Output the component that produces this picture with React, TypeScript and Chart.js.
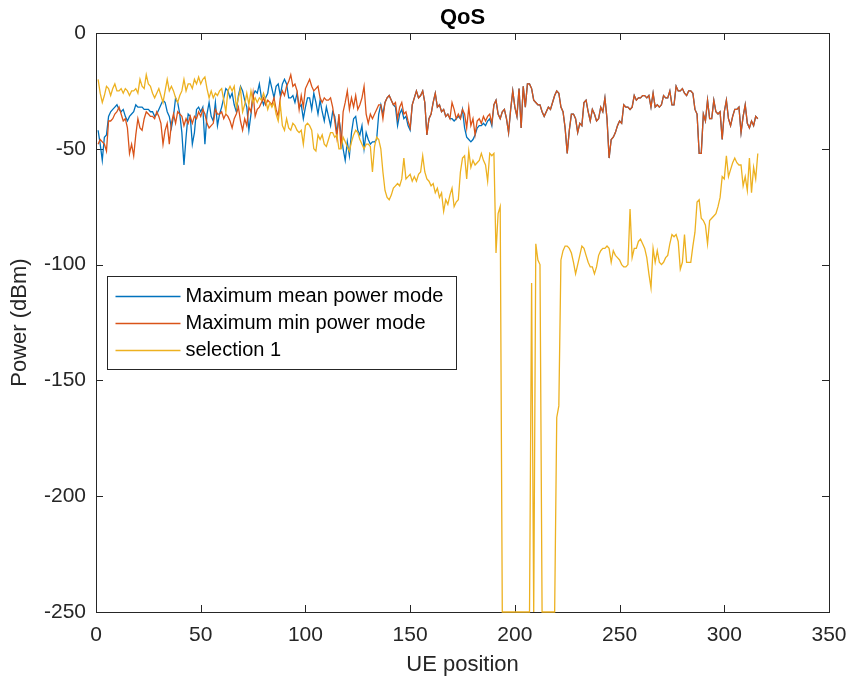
import { useEffect, useRef } from "react";
import { Chart, registerables } from "chart.js";

Chart.register(...registerables);

// Axis ticks
const xTicks = [0, 50, 100, 150, 200, 250, 300, 350];
const yTicks = [-250, -200, -150, -100, -50, 0];

const seriesNames = ["Maximum mean power mode", "Maximum min power mode", "selection 1"];
const seriesColors = ["#0072BD", "#D95319", "#EDB120"];

// Received power (dBm) per UE position 1..316
const meanPowerMode = [
  -42, -48, -55, -45, -44, -36, -34, -33, -32, -31,
  -33, -34, -33, -36, -38, -36, -35, -34, -31, -32,
  -32, -32, -33, -33, -33, -34, -34, -36, -35, -33,
  -31, -29, -30, -34, -36, -41, -36, -28, -30, -35,
  -43, -57, -45, -35, -36, -48, -43, -33, -32, -34,
  -32, -48, -35, -30, -36, -38, -30, -40, -35, -32,
  -28, -24, -25, -28, -26, -31, -34, -27, -23, -25,
  -29, -32, -42, -35, -27, -25, -26, -22, -28, -31,
  -28, -26, -20, -24, -28, -23, -22, -27, -22, -20,
  -22, -28, -28, -27, -30, -26, -32, -31, -37, -32,
  -28, -28, -33, -26, -30, -35, -29, -34, -38, -32,
  -36, -40, -34, -36, -43, -37, -43, -50, -55, -47,
  -53, -43, -37, -36, -42, -44, -40, -50, -43, -46,
  -48, -47, -47, -46, -35, -31, -35, -30, -28, -27,
  -29, -31, -32, -40, -35, -33, -37, -36, -40, -42,
  -31, -28, -25, -28, -27, -25, -30, -44, -37, -35,
  -30, -26, -32, -31, -34, -33, -36, -35, -37, -37,
  -38, -37, -36, -37, -33, -41, -45, -46, -47, -46,
  -44, -41, -40, -40, -39, -40, -38, -37, -40, -31,
  -29, -35, -37, -34, -33, -37, -43, -33, -25, -32,
  -36, -24, -41, -23, -32, -22, -22, -24, -29, -30,
  -31, -31, -34, -36, -34, -32, -33, -30, -27, -25,
  -26, -32, -34, -41, -52, -42, -35, -35, -37, -43,
  -39, -40, -30, -29, -34, -38, -33, -35, -38, -37,
  -32, -34, -28, -37, -54, -46, -45, -43, -40, -38,
  -39, -31, -32, -32, -33, -32, -27, -29, -28, -28,
  -27, -27, -28, -27, -32, -26, -32, -31, -32, -31,
  -27, -28, -28, -25, -31, -31, -23, -25, -25, -24,
  -26, -27, -25, -25, -26, -33, -35, -52, -52, -35,
  -38, -29, -37, -37, -29, -34, -35, -34, -46, -34,
  -29, -37, -40, -36, -33, -33, -32, -43, -36, -31,
  -39, -41, -38, -40, -36, -37,
];

const minPowerMode = [
  -48, -46, -47, -48, -51, -38, -38, -37, -35, -34,
  -32, -35, -38, -37, -41, -52, -48, -53, -44, -37,
  -41, -42, -37, -34, -35, -36, -36, -37, -34, -36,
  -39, -48, -42, -39, -48, -39, -35, -39, -34, -35,
  -36, -40, -37, -39, -36, -39, -36, -37, -34, -36,
  -33, -35, -39, -41, -40, -39, -33, -35, -35, -34,
  -37, -35, -36, -38, -41, -37, -35, -32, -38, -42,
  -37, -40, -32, -34, -26, -36, -33, -32, -30, -28,
  -31, -29, -30, -31, -28, -33, -36, -28, -25, -27,
  -23, -21, -18, -23, -22, -25, -33, -27, -32, -24,
  -22, -20, -23, -25, -24, -23, -28, -30, -28, -29,
  -29, -28, -32, -38, -45, -35, -50, -34, -30, -25,
  -33, -28, -32, -27, -33, -31, -28, -23, -35, -39,
  -35, -37, -35, -33, -31, -31, -37, -30, -28, -27,
  -29, -31, -30, -37, -32, -30, -35, -34, -38, -41,
  -31, -28, -25, -28, -27, -25, -30, -44, -37, -35,
  -30, -26, -32, -31, -34, -33, -36, -35, -37, -30,
  -33, -37, -35, -37, -33, -35, -41, -32, -40, -37,
  -44, -38, -37, -39, -36, -38, -36, -35, -39, -31,
  -29, -35, -37, -34, -33, -37, -43, -33, -25, -32,
  -36, -24, -41, -23, -32, -22, -22, -24, -29, -30,
  -31, -31, -34, -36, -34, -32, -33, -30, -27, -25,
  -26, -32, -34, -41, -52, -42, -35, -35, -37, -43,
  -39, -40, -30, -29, -34, -38, -33, -35, -38, -37,
  -32, -34, -28, -37, -54, -46, -45, -43, -40, -38,
  -39, -31, -32, -32, -33, -32, -27, -29, -28, -28,
  -27, -27, -28, -27, -32, -26, -32, -31, -32, -31,
  -27, -28, -28, -25, -31, -31, -23, -25, -25, -24,
  -26, -27, -25, -25, -26, -33, -35, -52, -52, -35,
  -38, -29, -37, -37, -29, -34, -35, -34, -46, -34,
  -29, -37, -40, -36, -33, -33, -32, -43, -36, -31,
  -39, -41, -38, -40, -36, -37,
];

const selection1 = [
  -20, -26, -30, -27, -23, -24, -27, -24, -22, -25,
  -25, -24, -26, -24, -25, -27, -25, -25, -24, -26,
  -20, -23, -24, -18, -22, -23, -26, -28, -26, -24,
  -27, -30, -25, -20, -25, -23, -25, -28, -30, -27,
  -25, -20, -25, -22, -22, -24, -20, -22, -19, -22,
  -20, -19, -24, -28, -25, -28, -26, -27, -25, -24,
  -29, -34, -25, -23, -25, -23, -32, -28, -24, -34,
  -31, -26, -31, -25, -30, -28, -30, -28, -29, -26,
  -29, -33, -30, -32, -30, -35, -38, -31, -40, -42,
  -37, -41, -42, -39, -40, -42, -43, -42, -48, -40,
  -39, -40, -42, -50, -51, -44, -46, -44, -48, -49,
  -46, -43, -43, -45, -44, -50, -50, -45, -47, -49,
  -51, -47, -44, -42, -43, -46, -48, -50, -48, -48,
  -49, -60, -49, -45, -46, -50, -60, -68, -71, -72,
  -70, -67, -66, -65, -66, -63, -54, -63, -62, -61,
  -64, -62, -64, -61, -60, -53, -60, -63, -64, -66,
  -65, -69, -67, -71, -69, -77, -72, -74, -70, -67,
  -75, -73, -72, -60, -54, -53, -63, -51, -58, -55,
  -57, -56, -55, -52, -55, -57, -64, -52, -53, -52,
  -95, -78, -75, -250, -250, -250, -250, -250, -250, -250,
  -250, -250, -250, -250, -250, -250, -250, -108, -250, -91,
  -98, -100, -250, -250, -250, -250, -250, -250, -250, -166,
  -161, -98, -94, -92, -92, -93, -95, -99, -104, -100,
  -96, -92, -93, -96, -99, -101, -101, -104, -101, -96,
  -94, -93, -93, -92, -93, -99, -94, -96, -97, -98,
  -100, -101, -101, -100, -76, -97, -93, -93, -90, -89,
  -91, -93, -97, -104, -110, -93, -99, -94, -99, -100,
  -99, -97, -96, -91, -87, -88, -87, -90, -102, -99,
  -87, -99, -99, -99, -92, -86, -73, -72, -80, -81,
  -83, -91, -81, -80, -79, -78, -75, -71, -62, -63,
  -53, -62, -59, -56, -54, -56, -57, -57, -66, -62,
  -68, -54, -69, -58, -63, -52,
];

const seriesValues = [meanPowerMode, minPowerMode, selection1];

const FONT = "'Liberation Sans', Arial, Helvetica, sans-serif";
const AXIS_COLOR = "#262626";

// Box around the axes with inward tick marks on all four sides (drawn under the data)
const axesFrame = {
  id: "axesFrame",
  beforeDatasetsDraw(chart: any) {
    const { ctx, chartArea: a, scales } = chart;
    const len = 7;
    ctx.save();
    ctx.strokeStyle = AXIS_COLOR;
    ctx.lineWidth = 1;
    ctx.strokeRect(a.left + 0.5, a.top + 0.5, a.right - a.left, a.bottom - a.top);
    ctx.beginPath();
    for (const t of scales.x.ticks) {
      const px = Math.round(scales.x.getPixelForValue(t.value)) + 0.5;
      ctx.moveTo(px, a.bottom);
      ctx.lineTo(px, a.bottom - len);
      ctx.moveTo(px, a.top);
      ctx.lineTo(px, a.top + len);
    }
    for (const t of scales.y.ticks) {
      const py = Math.round(scales.y.getPixelForValue(t.value)) + 0.5;
      ctx.moveTo(a.left, py);
      ctx.lineTo(a.left + len, py);
      ctx.moveTo(a.right, py);
      ctx.lineTo(a.right - len, py);
    }
    ctx.stroke();
    ctx.restore();
  },
  afterDatasetsDraw(chart: any) {
    const { ctx, chartArea: a } = chart;
    ctx.save();
    // Title
    ctx.fillStyle = "#000";
    ctx.font = `bold 22px ${FONT}`;
    ctx.textAlign = "center";
    ctx.textBaseline = "middle";
    ctx.fillText("QoS", (a.left + a.right) / 2, a.top - 15);

    // Legend
    const lx = a.left + 11.5;
    const ly = a.top + 243.5;
    const lw = 349;
    const lh = 93;
    ctx.fillStyle = "#fff";
    ctx.fillRect(lx, ly, lw, lh);
    ctx.strokeStyle = AXIS_COLOR;
    ctx.lineWidth = 1;
    ctx.strokeRect(lx, ly, lw, lh);
    ctx.font = `20px ${FONT}`;
    ctx.textAlign = "left";
    ctx.textBaseline = "middle";
    chart.data.datasets.forEach((ds: any, k: number) => {
      const y = ly + 20 + k * 27;
      ctx.strokeStyle = ds.borderColor;
      ctx.lineWidth = 1.3;
      ctx.beginPath();
      ctx.moveTo(lx + 8, y);
      ctx.lineTo(lx + 73, y);
      ctx.stroke();
      ctx.fillStyle = "#000";
      ctx.fillText(ds.label, lx + 78, y);
    });
    ctx.restore();
  },
};

export default function App() {
  const canvasRef = useRef<HTMLCanvasElement | null>(null);

  useEffect(() => {
    const canvas = canvasRef.current;
    if (!canvas) return;

    const datasets = seriesValues.map((vals, k) => ({
      label: seriesNames[k],
      data: vals.map((v, i) => ({ x: i + 1, y: v })),
      borderColor: seriesColors[k],
      backgroundColor: seriesColors[k],
      borderWidth: 1.3,
      pointRadius: 0,
      tension: 0,
      fill: false,
      clip: 3,
      order: 3 - k,
    }));

    const chart = new Chart(canvas, {
      type: "line",
      data: { datasets },
      options: {
        responsive: false,
        animation: false,
        events: [],
        layout: { padding: { top: 33, right: 18, left: 0, bottom: 0 } },
        plugins: {
          legend: { display: false },
          title: { display: false },
          tooltip: { enabled: false },
        },
        scales: {
          x: {
            type: "linear",
            min: 0,
            max: 350,
            afterBuildTicks: (s: any) => {
              s.ticks = xTicks.map((v) => ({ value: v }));
            },
            afterFit: (s: any) => {
              s.height = 75;
              s.paddingLeft = 0;
              s.paddingRight = 0;
            },
            grid: { display: false, drawTicks: false },
            border: { display: false },
            ticks: {
              padding: 11,
              color: AXIS_COLOR,
              font: { family: FONT, size: 21 },
              maxRotation: 0,
              autoSkip: false,
            },
            title: {
              display: true,
              text: "UE position",
              color: AXIS_COLOR,
              font: { family: FONT, size: 22 },
              padding: { top: 0, bottom: 9 },
            },
          },
          y: {
            type: "linear",
            min: -250,
            max: 0,
            afterBuildTicks: (s: any) => {
              s.ticks = yTicks.map((v) => ({ value: v }));
            },
            afterFit: (s: any) => {
              s.width = 96;
              s.paddingTop = 0;
              s.paddingBottom = 0;
            },
            grid: { display: false, drawTicks: false },
            border: { display: false },
            ticks: {
              padding: 10,
              color: AXIS_COLOR,
              font: { family: FONT, size: 21 },
              autoSkip: false,
            },
            title: {
              display: true,
              text: "Power (dBm)",
              color: AXIS_COLOR,
              font: { family: FONT, size: 22 },
              padding: { top: 7, bottom: 0 },
            },
          },
        },
      },
      plugins: [axesFrame],
    });

    return () => chart.destroy();
  }, []);

  return (
    <div style={{ position: "fixed", left: 0, top: 0, width: 847, height: 687, background: "#fff" }}>
      <canvas ref={canvasRef} width={847} height={687} style={{ width: 847, height: 687, display: "block" }} />
    </div>
  );
}
